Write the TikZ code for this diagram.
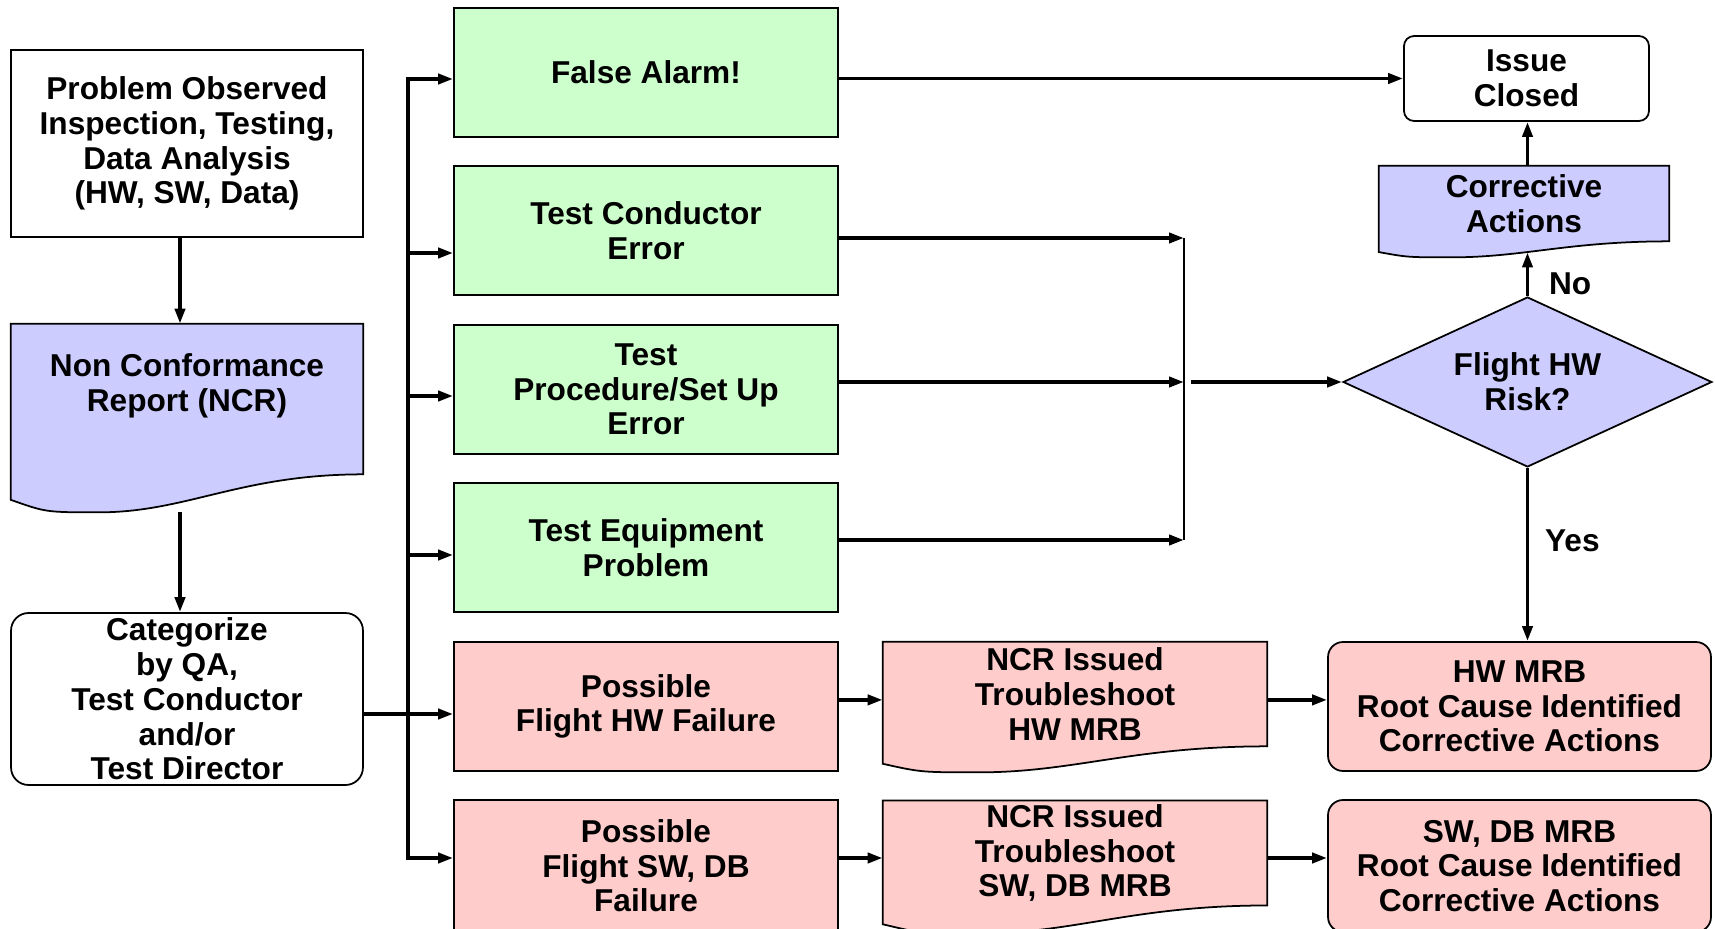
\documentclass[tikz,border=0pt]{standalone}
\usepackage{fontspec}
\setmainfont{Liberation Sans}
\usetikzlibrary{positioning,calc,shapes.geometric,arrows.meta}
\pgfdeclarelayer{background}
\pgfsetlayers{background,main}

\definecolor{okgreen}{RGB}{204,255,204}
\definecolor{ncrblue}{RGB}{204,204,255}
\definecolor{riskpink}{RGB}{255,204,204}

% document symbol: straight top and sides, wavy bottom hanging below the node
\newcommand{\docwave}[3]{%
  \begin{pgfonlayer}{background}
    \draw[docline, fill=#3] (#1.north west) -- (#1.north east) -- (#1.south east)
      .. controls ($(#1.south east)!0.35!(#1.south west)$) and ($(#1.south east)!0.5!(#1.south west)+(0,#2)$)
      .. ($(#1.south east)!0.75!(#1.south west)+(0,#2)$)
      .. controls ($(#1.south east)!0.9!(#1.south west)+(0,#2)$)
      .. ($(#1.south west)+(0,0.67*#2)$) -- cycle;
  \end{pgfonlayer}}

\begin{document}
\begin{tikzpicture}[x=0.02cm, y=-0.02cm, font=\fontsize{18}{19.75}\selectfont\bfseries]
\tikzset{
  docline/.style={draw=black, line width=1pt},
  plainbox/.style={draw=black, line width=1pt, fill=white, align=center, inner sep=2pt},
  okbox/.style={plainbox, fill=okgreen, minimum width=7.68cm, minimum height=2.58cm},
  pinkbox/.style={okbox, fill=riskpink},
  mrbbox/.style={plainbox, fill=riskpink, rounded corners=0.3cm, minimum width=7.66cm, minimum height=2.58cm},
  docbody/.style={align=center, inner sep=2pt},
  decision/.style={diamond, aspect=2.17, draw=black, line width=1pt, fill=ncrblue, align=center, inner sep=0pt,
    minimum width=7.38cm, minimum height=3.4cm},
  arr/.style={line width=2.1pt, -{Triangle[length=0.3cm, width=0.2cm]}},
  busarr/.style={arr, line width=2.3pt},
  thinline/.style={line width=0.9pt},
  yn/.style={inner sep=3pt}
}
\useasboundingbox (0,0) rectangle (1715,929);

% left column
\node[plainbox, minimum width=7.04cm, minimum height=3.74cm] (obs) at (187,143.5)
  {Problem Observed\\Inspection, Testing,\\Data Analysis\\(HW, SW, Data)};
\node[docbody, text depth=0.66cm, minimum width=7.04cm, minimum height=3cm] (ncr) at (187,399)
  {Non Conformance\\Report (NCR)};
\docwave{ncr}{38}{ncrblue}
\node[plainbox, rounded corners=0.35cm, minimum width=7.04cm, minimum height=3.44cm] (cat) at (187,699)
  {Categorize\\by QA,\\Test Conductor\\and/or\\Test Director};

% categories
\node[okbox] (fa) at (646,72.5) {False Alarm!};
\node[okbox, below=0.545cm of fa] (tce) {Test Conductor\\Error};
\node[okbox, below=0.565cm of tce] (tpe) {Test\\Procedure/Set Up\\Error};
\node[okbox, below=0.545cm of tpe] (tee) {Test Equipment\\Problem};
\node[pinkbox, below=0.565cm of tee] (fhw) {Possible\\Flight HW Failure};
\node[pinkbox, minimum height=2.64cm, below=0.545cm of fhw] (fsw) {Possible\\Flight SW, DB\\Failure};

% troubleshooting
\node[docbody, minimum width=7.68cm, minimum height=2.08cm] (nhw) at (1075,694) {NCR Issued\\Troubleshoot\\HW MRB};
\docwave{nhw}{26}{riskpink}
\node[docbody, minimum width=7.68cm, minimum height=2.08cm] (nsw) at (1075,853) {NCR Issued\\Troubleshoot\\SW, DB MRB};
\docwave{nsw}{28}{riskpink}

% right column
\node[plainbox, rounded corners=0.2cm, minimum width=4.9cm, minimum height=1.7cm] (ic) at (1526.5,78.5) {Issue\\Closed};
\node[docbody, minimum width=5.8cm, minimum height=1.5cm] (ca) at (1524,203.5) {Corrective\\Actions};
\docwave{ca}{16}{ncrblue}
\node[decision] (dia) at (1527.5,382) {Flight HW\\Risk?};
\node[mrbbox] (hwm) at (1519.5,706.5) {HW MRB\\Root Cause Identified\\Corrective Actions};
\node[mrbbox, minimum height=2.64cm] (swm) at (1519.5,866) {SW, DB MRB\\Root Cause Identified\\Corrective Actions};

% bus from the categorize box
\coordinate (tapfa) at (408,79);
\coordinate (tapce) at (408,253);
\coordinate (tappe) at (408,396);
\coordinate (tapee) at (408,555);
\coordinate (taphw) at (408,714);
\coordinate (tapsw) at (408,858);
\draw[busarr] (tapsw) -- (tapfa) -- (tapfa -| fa.west);
\draw[busarr] (tapfa) -- (tapsw) -- (tapsw -| fsw.west);
\foreach \t/\b in {tapce/tce, tappe/tpe, tapee/tee}
  \draw[arr] (\t) -- (\t -| \b.west);
\draw[arr] (cat.east |- taphw) -- (taphw -| fhw.west);

% test errors merge into the decision
\coordinate (jce) at (1184,238);
\coordinate (jpe) at (1184,382);
\coordinate (jee) at (1184,540);
\foreach \b/\j in {tce/jce, tpe/jpe, tee/jee}
  \draw[arr] (\j -| \b.east) -- (\j);
\draw[thinline] (jce) -- (jee);
\draw[arr] ($(jpe)+(7,0)$) -- (dia.west);

\draw[arr] ($(obs.south)+(-7,0)$) -- ($(ncr.north)+(-7,0)$);
\draw[arr] ($(ncr.south)+(-7,38)$) -- ($(cat.north)+(-7,0)$);
\draw[arr] (fa.east |- ic.west) -- (ic.west);
\draw[arr] (dia.north) -- ($(dia.north |- ca.south)+(0,11)$);
\draw[arr] (dia.north |- ca.north) -- (dia.north |- ic.south);
\draw[arr] (dia.south) -- (dia.south |- hwm.north);
\node[yn, anchor=west] (no) at ($(dia.north)+(16,-12)$) {No};
\node[yn, anchor=west] (yes) at ($(dia.south)+(12,73)$) {Yes};

\draw[arr] ($(fhw.east)+(0,-6.5)$) -- ($(fhw.east -| nhw.west)+(0,-6.5)$);
\draw[arr] ($(nhw.east |- fhw.east)+(0,-6.5)$) -- ($(fhw.east -| hwm.west)+(0,-6.5)$);
\draw[arr] (fsw.east |- tapsw) -- (tapsw -| nsw.west);
\draw[arr] (nsw.east |- tapsw) -- (tapsw -| swm.west);
\end{tikzpicture}
\end{document}
